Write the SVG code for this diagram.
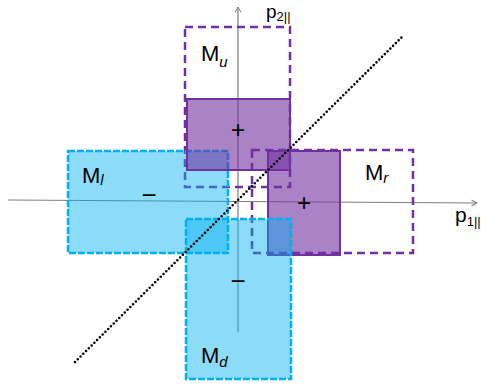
<svg xmlns="http://www.w3.org/2000/svg" width="488" height="388" viewBox="0 0 488 388">
  <defs>
    <marker id="arr" markerWidth="8" markerHeight="8" refX="6" refY="3.5" orient="auto" markerUnits="userSpaceOnUse">
      <path d="M0.5,0.5 L6,3.5 L0.5,6.5" fill="none" stroke="#7f7f7f" stroke-width="1"/>
    </marker>
  </defs>
  <style>
    .axis { stroke: #7f7f7f; stroke-width: 1.2; fill: none; }
    .pdash { fill: none; stroke: #7030a0; stroke-width: 2.5; stroke-dasharray: 8 5; }
    .psolid { fill: #7030a0; fill-opacity: 0.6; stroke: #7030a0; stroke-width: 2; }
    .cyan { fill: #00b0f0; fill-opacity: 0.45; stroke: #00b0f0; stroke-width: 2.5; stroke-dasharray: 7 2; }
    .lbl { font-family: "Liberation Sans", Arial, sans-serif; fill: #000; }
    .sub { font-style: italic; }
    .dots { stroke: #000; stroke-width: 2.6; stroke-linecap: round; stroke-dasharray: 0 3.9; fill: none; }
  </style>

  <g id="connectors">
    <line id="axis-p1" class="axis" x1="8" y1="200" x2="477" y2="203" marker-end="url(#arr)"/>
    <line id="axis-p2" class="axis" x1="238" y1="332" x2="238" y2="7" marker-end="url(#arr)"/>
  </g>

  <g id="Mu">
    <rect class="pdash" x="185" y="27" width="105" height="160"/>
    <text class="lbl" x="201" y="61" font-size="22">M<tspan class="sub" font-size="15" dy="6">u</tspan></text>
  </g>
  <g id="Mr">
    <rect class="pdash" x="252" y="150" width="161" height="103"/>
    <text class="lbl" x="365" y="180" font-size="22">M<tspan class="sub" font-size="15" dy="3">r</tspan></text>
  </g>
  <g id="Ml">
    <rect class="cyan" x="68" y="151" width="160" height="102"/>
    <text class="lbl" x="82" y="183" font-size="22">M<tspan class="sub" font-size="15" dy="2">l</tspan></text>
  </g>
  <g id="Mu-shift">
    <rect class="psolid" x="187" y="99" width="103" height="71"/>
    <text class="lbl" x="238" y="138" font-size="24" text-anchor="middle">+</text>
  </g>
  <g id="Mr-shift">
    <rect class="psolid" x="268" y="151" width="72" height="104"/>
    <text class="lbl" x="304" y="211" font-size="24" text-anchor="middle">+</text>
  </g>
  <g id="Md">
    <rect class="cyan" x="186" y="219" width="105" height="160"/>
    <text class="lbl" x="201" y="363" font-size="22">M<tspan class="sub" font-size="15" dy="4">d</tspan></text>
  </g>
  <g id="minus-left">
    <text class="lbl" x="149" y="204" font-size="26" text-anchor="middle">−</text>
  </g>
  <g id="minus-bottom">
    <text class="lbl" x="238" y="290" font-size="26" text-anchor="middle">−</text>
  </g>

  <g id="diagonal">
    <line class="dots" x1="75" y1="362" x2="402" y2="37"/>
  </g>

  <g id="axis-labels">
    <text class="lbl" x="266" y="18" font-size="19">p<tspan font-size="13" dy="3">2||</tspan></text>
    <text class="lbl" x="455" y="222" font-size="21">p<tspan font-size="13" dy="4">1||</tspan></text>
  </g>
</svg>
